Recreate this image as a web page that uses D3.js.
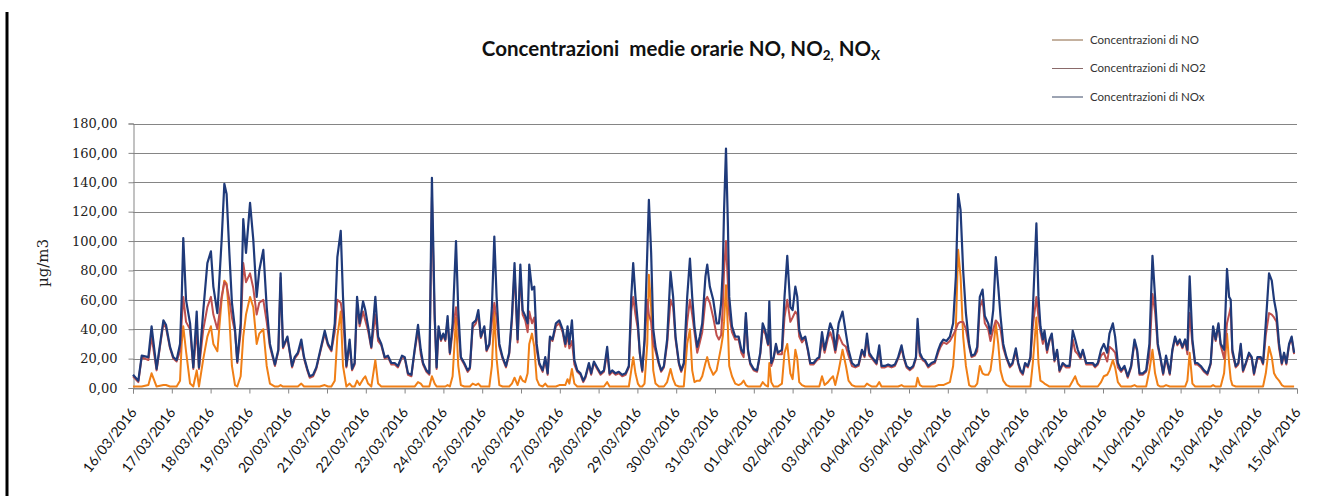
<!DOCTYPE html>
<html><head><meta charset="utf-8">
<script src="https://cdn.jsdelivr.net/npm/d3@7"></script>
<style>body{margin:0;background:#fff;} svg{display:block;}</style>
</head><body>
<svg id="chart" width="1335" height="496"></svg>
<script>
// ---- data (hours since 16/03/2016 00:00) ----
const startDay = [2016, 2, 16];
const endDay = [2016, 3, 15];
const hours = [
0,3.3,5.4,9.5,11.5,14.6,18.8,20.4,22.9,24.9,
27,29.1,30.1,31.1,32.8,35.3,37.3,39.4,40.8,43.5,
46,48.2,49.7,52.2,54.8,56.5,57.9,59.6,61.2,63.1,
64.5,66.6,68.2,69.9,72.4,74.4,76.5,78.1,80.6,82.7,
84.7,87.8,89.9,91.3,92.8,95.5,98.4,100,102,104.1,
105.8,107.8,109.3,111.4,113.4,115.5,118.6,120.6,122.7,124.8,
126.4,128.5,129.9,132,134,135.5,137.1,138.6,140.2,142.3,
143.7,145.4,147.4,149.9,151.6,153.6,155.7,157.7,159.8,161.9,
163.9,166.4,168.1,170.1,172.2,174.2,176.3,178,179.4,181.5,
183.3,184.9,186.6,187.8,189,190.5,191.9,193.2,194.6,196,
197.7,199.8,201.2,202.8,204.9,207,208.4,210.1,212.1,213.6,
215.2,217.3,218.7,220.4,222,223.5,224.9,226.6,228.6,230.7,
232.7,234.4,236,237.9,239.6,241,242.6,244.1,245.1,246.8,
248.2,249.7,251.3,253.4,255,256.5,257.9,259.5,261.6,263.7,
265.7,267.4,268.8,269.9,271.5,273,274.8,276.8,278.5,279.9,
282,283.4,285.1,287.1,289.2,291.3,293.3,294.8,296.4,298.5,
300.5,302.6,304.7,306.7,308.2,309.4,310.8,312.3,313.5,315,
316.4,318.1,319.1,320.5,321.8,323.2,325.3,326.7,328.4,330.4,
332.5,334.1,335.6,337.7,339.1,340.7,342.8,344.5,345.9,347.3,
349,350.6,352.1,354.1,355.2,356.8,358.9,361,362.4,363.8,
364.8,365.6,366.8,368,368.8,370.5,372.5,374.6,376.3,377.7,
379.1,380.4,381.8,383.9,386,388,389.5,391.1,392.8,393.6,
394.8,396.3,397.7,398.9,401.4,403,404.7,406.6,408,409.7,
410.9,412.1,413.8,415.8,417.5,418.9,421,423.1,424.5,426.2,
427.8,429.9,431.3,433,434.4,436.5,438.9,441,442.6,444.7,
446.8,448.8,450.9,452.5,454,455.4,457.1,459.9,461.6,463,
465.1,467.1,469.2,471.3,473.3,475.4,476.8,478.5,480.5,482.6,
484.3,485.3,486.7,488.4,489.8,491.9,493.9,496,498.1,499.5,
501.2,503.2,505.3,507.3,509,510.4,511.9,513.5,515.2,517.2,
518.7,520.7,522.2,523.8,525.5,526.9,529,530.4,532.1,533.7,
535.2,536.6,538.3,540.3,542.4,544,546.1,547.6,549,550.4,
551.8,553.5,555.1,556.6,558.8,560.1,561.3,562.8,563.8,565.4,
566.9,568.3,570,571.6,573.1,575.1,577.2,579.3,581.3,582.8,
584.4,586.1,587.5,589.6,591.6,593.7,595.1,596.8,598.8,600.5,
602.6,604,606.1,607.5,609.2,611.2,613.3,615.3,617.4,619.5,
621.1,622.6,624.6,626.7,628.7,630.6,632.2,633.9,635.5,637.2,
639,641.3,642.9,644.6,646,647.5,649.1,650.8,652.2,653.6,
655.3,657,658.4,660.5,662.5,664.6,666.6,668.1,669.7,671.4,
672.8,674.9,676.7,678,679,680,682.1,683.7,685.2,686.6,
688.3,690.3,692,693.4,695.5,697.6,699,700.7,702.7,704.4,
705.8,707.3,708.9,710.6,712,713.4,715.1,716.7,718.2];

const nox = [
9,5,22,21,42,13,46,43,28,21,
19,30,60,102,60,44,14,52,14,53,
85,93,69,51,100,139,132,92,58,40,
18,44,115,92,126,101,62,80,94,55,
30,16,26,78,28,35,15,21,24,33,
21,13,8,9,14,24,39,30,26,44,
89,107,62,15,33,13,17,62,44,59,
53,42,28,62,35,30,21,22,17,17,
15,22,21,10,9,26,43,26,17,12,
10,143,50,14,42,33,37,33,49,24,
44,100,53,21,17,12,14,44,46,53,
35,42,26,30,55,103,62,30,21,15,
24,49,85,33,84,53,49,44,84,67,
69,30,17,12,21,10,35,33,44,46,
40,30,42,30,46,19,12,10,5,8,
17,10,18,14,10,12,28,10,12,10,
11,9,10,15,62,85,62,44,24,12,
33,92,128,92,40,28,17,12,15,33,
79,62,35,17,12,17,62,88,62,42,
28,35,44,76,84,69,60,44,44,58,
80,121,163,110,62,42,35,35,26,24,
51,26,17,13,12,24,44,39,30,59,
17,21,30,24,26,62,90,55,53,69,
62,39,33,35,26,17,17,20,21,38,
26,37,44,39,26,44,52,37,26,17,
15,16,26,22,37,24,21,17,29,15,
15,16,15,16,21,29,21,15,13,15,
21,47,24,20,19,15,17,18,26,30,
33,32,35,44,76,132,121,80,51,30,
22,23,28,62,67,49,44,37,53,89,
69,49,30,21,15,17,27,17,12,10,
17,15,21,53,112,62,42,33,39,26,
33,37,19,26,12,17,15,15,39,33,
26,21,26,17,17,17,15,17,26,30,
24,37,44,35,17,12,15,8,15,33,
26,10,10,12,30,90,62,30,21,10,
22,10,26,35,30,33,28,33,26,76,
33,17,17,15,12,10,17,42,33,44,
30,26,81,62,60,26,15,17,30,12,
17,24,21,10,21,21,17,44,78,73,
60,51,30,17,24,17,30,35,24];

const no2 = [
8,4,21,19,35,12,44,41,27,20,
18,25,45,62,45,40,13,40,13,40,
55,62,50,40,62,72,70,60,48,38,
17,38,85,72,78,68,50,58,60,45,
28,15,25,75,27,34,14,20,23,30,
20,12,7,8,13,23,37,29,25,38,
60,58,48,14,30,12,16,57,42,52,
46,39,27,50,32,29,20,21,16,16,
14,21,20,9,8,25,39,23,16,11,
9,130,46,13,40,32,36,32,46,23,
38,55,42,20,16,11,13,41,44,50,
34,41,25,29,45,58,48,28,20,14,
23,46,80,31,78,50,46,38,52,44,
48,26,16,11,19,9,34,32,42,44,
38,28,36,27,32,16,11,9,4,7,
16,9,17,13,9,11,24,9,11,9,
10,8,9,14,52,62,50,40,23,11,
30,60,50,45,30,25,16,11,14,30,
60,55,33,16,11,16,45,60,50,38,
24,31,38,60,62,58,48,36,33,36,
55,80,100,70,50,38,33,33,24,21,
49,25,16,12,11,23,40,37,29,45,
15,20,29,23,23,48,60,45,48,52,
50,35,31,34,25,16,16,19,20,32,
24,34,38,32,24,36,30,28,22,15,
14,15,25,21,34,22,20,16,26,14,
14,15,14,15,20,27,20,14,12,14,
20,40,22,19,18,14,16,17,24,28,
31,30,32,36,40,44,45,45,40,28,
21,22,25,55,60,44,40,32,40,46,
44,40,27,20,14,16,25,16,11,9,
16,14,20,42,62,48,38,30,36,24,
32,36,18,25,11,16,14,14,33,25,
23,20,25,16,16,16,14,16,22,24,
18,28,26,24,14,11,14,7,14,31,
25,9,9,11,22,64,52,28,20,9,
20,9,25,34,29,32,27,32,23,51,
30,16,16,14,11,9,16,40,32,43,
29,20,44,50,55,24,14,16,29,11,
16,23,20,9,20,20,16,36,51,50,
48,45,27,16,23,16,29,34,23];

const no = [
1,1,1,2,10,1,2,2,1,1,
1,5,30,42,25,3,1,12,1,20,
35,42,30,25,60,73,71,48,15,2,
1,8,35,50,62,55,30,37,40,15,
3,1,1,2,1,1,1,1,1,3,
1,1,1,1,1,1,2,1,1,5,
35,52,15,1,3,1,1,5,2,6,
8,3,1,19,3,1,1,1,1,1,
1,1,1,1,1,1,4,3,1,1,
1,8,3,1,1,1,1,1,2,1,
8,48,15,2,1,1,1,3,2,3,
1,1,1,1,15,52,20,2,1,1,
1,3,7,2,8,5,4,10,30,37,
28,6,2,1,3,1,1,1,1,2,
2,2,6,3,13,3,1,1,1,1,
1,1,1,1,1,1,4,1,1,1,
1,1,1,1,12,21,10,3,1,1,
3,30,77,55,12,3,1,1,1,4,
13,6,2,1,1,1,30,40,12,4,
5,5,8,17,21,14,9,12,20,28,
35,45,70,40,15,8,3,2,3,5,
2,1,1,1,1,1,4,2,1,17,
4,1,1,1,3,24,30,10,6,26,
20,4,2,1,1,1,1,1,1,8,
2,4,6,8,2,12,26,15,5,2,
1,1,1,1,3,2,1,1,4,1,
1,1,1,1,1,2,1,1,1,1,
1,7,2,1,1,1,1,1,2,2,
2,3,4,15,42,94,76,35,15,2,
1,1,3,15,10,9,9,12,26,44,
30,12,5,2,1,1,1,1,1,1,
1,1,1,17,48,17,5,4,3,2,
1,1,1,1,1,1,1,1,5,8,
3,1,1,1,1,1,1,1,4,8,
9,12,19,14,4,1,1,1,1,2,
1,1,1,1,12,26,10,2,1,1,
2,1,1,1,1,1,1,1,5,24,
3,1,1,1,1,1,1,2,1,1,
1,10,37,17,6,2,1,1,1,1,
1,1,1,1,1,1,1,10,28,21,
10,7,5,2,1,1,1,1,1];

const yTicks = [0,20,40,60,80,100,120,140,160,180];
const seriesNames = ["Concentrazioni di NO", "Concentrazioni di NO2", "Concentrazioni di NOx"];
const yTitle = "µg/m3";

// ---- drawing ----
const svg = d3.select("#chart");
const W = 1335, H = 496;
const mLeft = 133, mRight = 1297, mTop = 123.5, mBottom = 388;
const t0 = new Date(Date.UTC(...startDay));
const t1 = new Date(Date.UTC(...endDay));
const x = d3.scaleUtc().domain([t0, t1]).range([mLeft, mRight]);
const y = d3.scaleLinear().domain([0, 180]).range([mBottom, mTop]);
const timeOf = h => new Date(t0.getTime() + h * 3600000);

svg.append("rect").attr("width", W).attr("height", H).attr("fill", "#fff");
// left black frame line
svg.append("line").attr("x1", 7).attr("x2", 7).attr("y1", 12).attr("y2", H)
  .attr("stroke", "#000").attr("stroke-width", 3);

// gridlines
svg.append("g").selectAll("line").data(yTicks).join("line")
  .attr("x1", mLeft).attr("x2", mRight)
  .attr("y1", d => Math.round(y(d)) + 0.5).attr("y2", d => Math.round(y(d)) + 0.5)
  .attr("stroke", "#858585").attr("stroke-width", 1);

// y axis
const fmt = d => d3.format(".2f")(d).replace(".", ",");
const yAxis = svg.append("g").attr("transform", `translate(${mLeft + 0.5},0)`)
  .call(d3.axisLeft(y).tickValues(yTicks).tickFormat(fmt).tickSize(5).tickPadding(11));
yAxis.select(".domain").attr("stroke", "#858585");
yAxis.selectAll(".tick line").attr("stroke", "#858585");
yAxis.selectAll(".tick text").attr("font-family", "DejaVu Serif").attr("font-size", 13)
  .attr("fill", "#222");

// x axis
const xAxis = svg.append("g").attr("transform", `translate(0,${Math.round(mBottom) + 0.5})`)
  .call(d3.axisBottom(x).ticks(d3.utcDay.every(1)).tickFormat(d3.utcFormat("%d/%m/%Y")).tickSize(5));
xAxis.select(".domain").attr("stroke", "#858585");
xAxis.selectAll(".tick line").attr("stroke", "#858585");
xAxis.selectAll(".tick text")
  .attr("font-family", "Lato").attr("font-size", 14).attr("fill", "#111")
  .attr("x", 0).attr("y", 0).attr("dy", 0)
  .attr("text-anchor", "end")
  .attr("transform", "translate(4,24) rotate(-52)");

// lines
const colors = ["#f07f16", "#c0504d", "#1f3a7a"];
const series = [no, no2, nox];
const line = d3.line().x((d, i) => x(timeOf(hours[i]))).y(d => y(d));
svg.append("g").selectAll("path").data(series).join("path")
  .attr("d", d => line(d))
  .attr("fill", "none")
  .attr("stroke", (d, i) => colors[i])
  .attr("stroke-width", (d, i) => i === 2 ? 2.2 : 2)
  .attr("stroke-linejoin", "round");

// title
const title = svg.append("text").attr("x", 681).attr("y", 56)
  .attr("text-anchor", "middle").attr("font-family", "Lato").attr("font-weight", "bold")
  .attr("font-size", 20.5).attr("fill", "#111").style("white-space", "pre");
title.append("tspan").text("Concentrazioni  medie orarie NO, NO");
title.append("tspan").attr("font-size", 13.5).attr("dy", 4).text("2,");
title.append("tspan").attr("dy", -4).text(" NO");
title.append("tspan").attr("font-size", 13.5).attr("dy", 4).text("X");

// y title
svg.append("text").attr("transform", "translate(48,263) rotate(-90)")
  .attr("text-anchor", "middle").attr("font-family", "DejaVu Serif").attr("font-size", 15)
  .attr("fill", "#222").text(yTitle);

// legend
const legendColors = ["#8a6440", "#8a6a6a", "#3a4866"];
const lg = svg.append("g").selectAll("g").data(seriesNames).join("g")
  .attr("transform", (d, i) => `translate(0,${40 + i * 28.5})`);
lg.append("line").attr("x1", 1052).attr("x2", 1083).attr("y1", 0).attr("y2", 0)
  .attr("stroke", (d, i) => legendColors[i]).attr("stroke-width", 1);
lg.append("text").attr("x", 1090).attr("y", 3.5).attr("font-family", "Lato")
  .attr("font-size", 11.5).attr("fill", "#333").text(d => d);
</script>
</body></html>
